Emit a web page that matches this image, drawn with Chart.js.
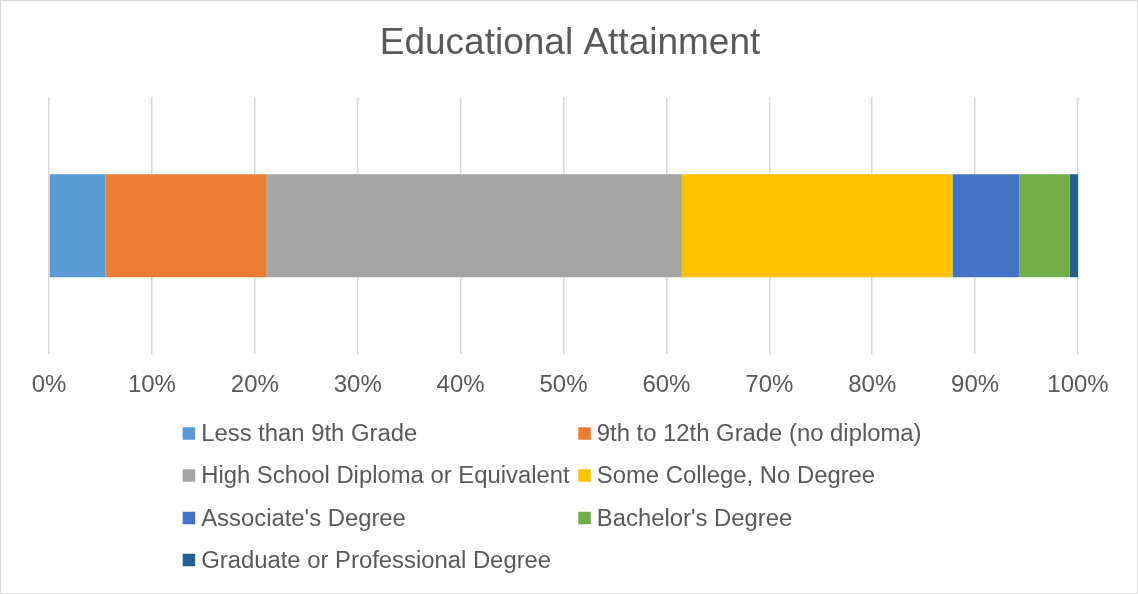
<!DOCTYPE html>
<html>
<head>
<meta charset="utf-8">
<script src="https://cdn.jsdelivr.net/npm/chart.js@4/dist/chart.umd.min.js"></script>
<style>
  html, body { margin: 0; padding: 0; background: #fff; }
  #wrap { width: 1138px; height: 594px; box-sizing: border-box; border: 1px solid #d9d9d9; background: #fff; }
  canvas { display: block; }
</style>
</head>
<body>
<div id="wrap"><canvas id="c" width="1136" height="592"></canvas></div>
<script>
const chartTitle = 'Educational Attainment';
const categories = ['Educational Attainment'];
const seriesLabels = [
  'Less than 9th Grade',
  '9th to 12th Grade (no diploma)',
  'High School Diploma or Equivalent',
  'Some College, No Degree',
  "Associate's Degree",
  "Bachelor's Degree",
  'Graduate or Professional Degree'
];
const seriesValues = [5.5, 15.6, 40.4, 26.3, 6.5, 4.9, 0.8];
const seriesColors = ['#5B9BD5', '#ED7D31', '#A5A5A5', '#FFC000', '#4472C4', '#70AD47', '#255E91'];
const tickValues = [0, 10, 20, 30, 40, 50, 60, 70, 80, 90, 100];

const FONT = "'Liberation Sans', Arial, sans-serif";
const TEXT = '#595959';

const titleAndLegend = {
  id: 'titleAndLegend',
  afterDraw(chart) {
    const ctx = chart.ctx;
    ctx.save();
    // title centred on the whole chart
    ctx.font = '37px ' + FONT;
    ctx.fillStyle = TEXT;
    ctx.textAlign = 'center';
    ctx.textBaseline = 'alphabetic';
    ctx.fillText(chartTitle, chart.width / 2 + 1, 53.3);

    // two-column legend
    const colX = [181.7, 577.3];
    const rowY = [432.5, 474.5, 517, 559];
    const box = 12.5;
    ctx.font = '23.85px ' + FONT;
    ctx.textBaseline = 'middle';
    ctx.textAlign = 'left';
    chart.data.datasets.forEach((ds, i) => {
      const x = colX[i % 2];
      const y = rowY[Math.floor(i / 2)];
      ctx.fillStyle = ds.backgroundColor;
      ctx.fillRect(x, y - box / 2, box, box);
      ctx.fillStyle = TEXT;
      ctx.fillText(ds.label, x + box + 6, y + 1);
    });
    ctx.restore();
  }
};

new Chart(document.getElementById('c'), {
  type: 'bar',
  data: {
    labels: categories,
    datasets: seriesLabels.map((lab, i) => ({
      label: lab,
      data: [seriesValues[i]],
      backgroundColor: seriesColors[i],
      borderWidth: 0,
      categoryPercentage: 1.0,
      barPercentage: 0.4
    }))
  },
  options: {
    indexAxis: 'y',
    responsive: false,
    animation: false,
    layout: { padding: { left: 48, right: 59, top: 96, bottom: 176.6 } },
    plugins: {
      legend: { display: false },
      tooltip: { enabled: false },
      title: { display: false }
    },
    scales: {
      x: {
        type: 'linear',
        stacked: true,
        min: 0,
        max: 100,
        afterBuildTicks: (axis) => { axis.ticks = tickValues.map(v => ({ value: v })); },
        border: { display: false },
        grid: { color: '#d9d9d9', lineWidth: 1.5, drawTicks: false },
        ticks: {
          autoSkip: false,
          maxRotation: 0,
          padding: 16.6,
          color: TEXT,
          font: { family: FONT, size: 24, lineHeight: 1.2 },
          callback: (v) => v + '%'
        }
      },
      y: {
        type: 'category',
        stacked: true,
        display: false
      }
    }
  },
  plugins: [titleAndLegend]
});
</script>
</body>
</html>
